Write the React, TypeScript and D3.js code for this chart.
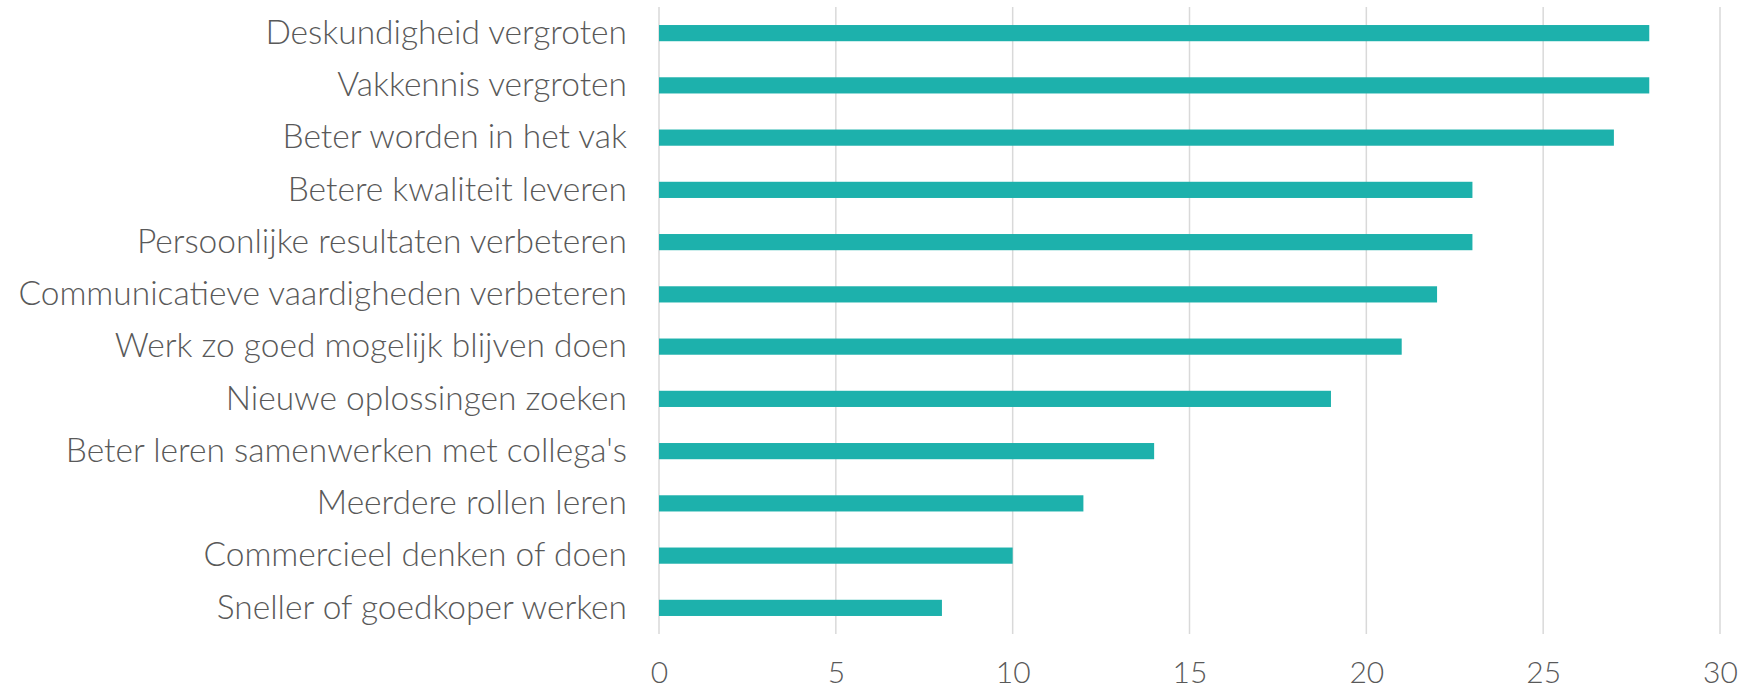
import React, { useEffect, useRef } from "react";
import * as d3 from "d3";

const categories = [
  "Deskundigheid vergroten",
  "Vakkennis vergroten",
  "Beter worden in het vak",
  "Betere kwaliteit leveren",
  "Persoonlijke resultaten verbeteren",
  "Communicatieve vaardigheden verbeteren",
  "Werk zo goed mogelijk blijven doen",
  "Nieuwe oplossingen zoeken",
  "Beter leren samenwerken met collega's",
  "Meerdere rollen leren",
  "Commercieel denken of doen",
  "Sneller of goedkoper werken",
];
const values = [28, 28, 27, 23, 23, 22, 21, 19, 14, 12, 10, 8];
const xTicks = [0, 5, 10, 15, 20, 25, 30];

export default function App() {
  const ref = useRef<SVGSVGElement>(null);

  useEffect(() => {
    const width = 1741;
    const height = 690;
    const margin = { top: 7, left: 659, bottom: 56, right: 21 };
    const iwidth = width - margin.left - margin.right;
    const iheight = height - margin.top - margin.bottom;

    const svg = d3.select(ref.current);
    svg.selectAll("*").remove();

    const g = svg.append("g").attr("transform", `translate(${margin.left}, ${margin.top})`);

    const x = d3.scaleLinear().domain([0, 30]).range([0, iwidth]);
    const y = d3.scaleBand().domain(categories).range([0, iheight]).paddingInner(0.69).paddingOuter(0.345);

    // vertical gridlines
    g.append("g")
      .selectAll("line")
      .data(xTicks)
      .enter()
      .append("line")
      .attr("x1", d => x(d))
      .attr("x2", d => x(d))
      .attr("y1", 0)
      .attr("y2", iheight)
      .attr("stroke", "#d9d9d9")
      .attr("stroke-width", 1.5);

    g.selectAll("rect.bar")
      .data(values)
      .enter()
      .append("rect")
      .attr("class", "bar")
      .attr("x", x(0))
      .attr("y", (d, i) => y(categories[i]) as number)
      .attr("width", d => x(d) - x(0))
      .attr("height", y.bandwidth())
      .attr("fill", "#1db1ac");

    const xAxis = g.append("g")
      .attr("transform", `translate(0, ${iheight})`)
      .call(d3.axisBottom(x).tickValues(xTicks).tickSize(0).tickPadding(28));
    xAxis.select(".domain").remove();
    xAxis.selectAll("text")
      .attr("fill", "#595959")
      .style("font-family", "Lato, sans-serif")
      .style("font-weight", 300)
      .style("font-size", "30px");

    const yAxis = g.append("g")
      .call(d3.axisLeft(y).tickSize(0).tickPadding(32));
    yAxis.select(".domain").remove();
    yAxis.selectAll("text")
      .attr("fill", "#595959")
      .style("font-family", "Lato, sans-serif")
      .style("font-weight", 300)
      .style("font-size", "33.5px");
  }, []);

  return (
    <svg ref={ref} width={1741} height={690} style={{ display: "block", position: "absolute", left: 0, top: 0 }} />
  );
}
